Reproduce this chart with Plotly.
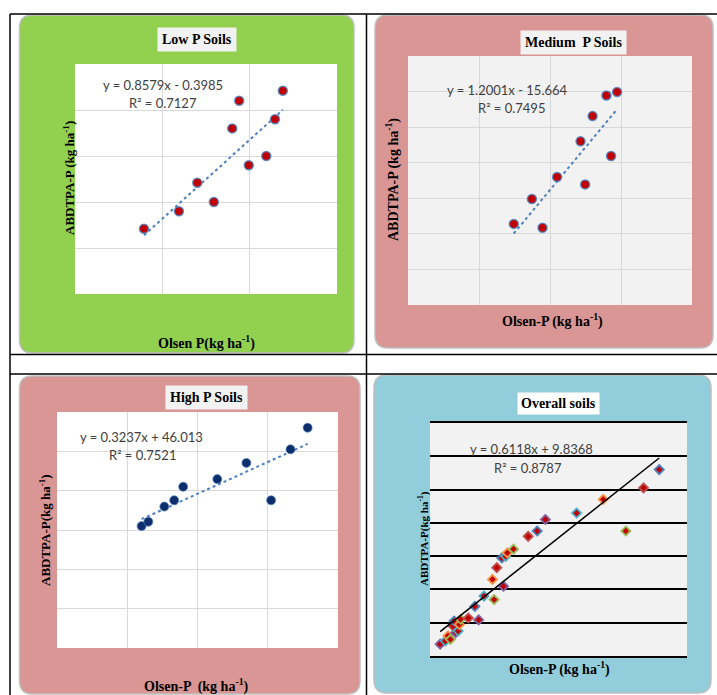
import plotly.graph_objects as go
import numpy as np

# ---------------- data ----------------
low_olsen = [7.9, 11.9, 14.0, 15.9, 18.0, 18.8, 19.9, 21.9, 22.9, 23.8]
low_abdtpa = [7.1, 9.0, 12.1, 10.0, 18.0, 21.0, 14.0, 15.0, 19.0, 22.1]
low_fit = [0.8579, -0.3985]
low_r2 = 0.7127

med_olsen = [29.8, 34.9, 37.9, 42.0, 48.6, 49.9, 52.0, 55.9, 57.2, 58.9]
med_abdtpa = [22.8, 29.8, 21.7, 36.0, 46.0, 33.9, 53.1, 58.9, 41.9, 59.9]
med_fit = [1.2001, -15.664]
med_r2 = 0.7495

high_olsen = [60.2, 65.0, 76.4, 83.4, 89.8, 114.1, 134.8, 152.4, 166.2, 178.4]
high_abdtpa = [62.0, 64.2, 71.9, 75.1, 82.0, 85.9, 94.1, 75.1, 101.0, 112.0]
high_fit = [0.3237, 46.013]
high_r2 = 0.7521

overall_olsen = low_olsen + med_olsen + high_olsen
overall_abdtpa = low_abdtpa + med_abdtpa + high_abdtpa
overall_fit = [0.6118, 9.8368]
overall_r2 = 0.8787

panel_titles = ["Low P Soils", "Medium  P Soils", "High P Soils", "Overall soils"]

# ---------------- layout helpers ----------------
W, H = 717, 695


def X(px):
    return px / W


def Y(py):
    return 1 - py / H


def rrect(x0, y0, x1, y1, r, fill, line="#BFBFBF"):
    p = (f"M {X(x0 + r)},{Y(y0)} L {X(x1 - r)},{Y(y0)} Q {X(x1)},{Y(y0)} {X(x1)},{Y(y0 + r)} "
         f"L {X(x1)},{Y(y1 - r)} Q {X(x1)},{Y(y1)} {X(x1 - r)},{Y(y1)} "
         f"L {X(x0 + r)},{Y(y1)} Q {X(x0)},{Y(y1)} {X(x0)},{Y(y1 - r)} "
         f"L {X(x0)},{Y(y0 + r)} Q {X(x0)},{Y(y0)} {X(x0 + r)},{Y(y0)} Z")
    return dict(type="path", path=p, xref="paper", yref="paper", fillcolor=fill,
                line=dict(color=line, width=1.5), layer="below")


def rect(x0, y0, x1, y1, fill):
    return dict(type="rect", xref="paper", yref="paper", x0=X(x0), x1=X(x1), y0=Y(y1), y1=Y(y0),
                fillcolor=fill, line=dict(width=0), layer="below")


def hline(x0, x1, y, w=1.5):
    return dict(type="line", xref="paper", yref="paper", x0=X(x0), x1=X(x1), y0=Y(y), y1=Y(y),
                line=dict(color="black", width=w), layer="above")


def vline(x, y0, y1, w=1.5):
    return dict(type="line", xref="paper", yref="paper", x0=X(x), x1=X(x), y0=Y(y0), y1=Y(y1),
                line=dict(color="black", width=w), layer="above")


shapes = [
    # table borders
    hline(10, 717, 14), hline(10, 717, 354.5), hline(10, 717, 374),
    vline(10, 14, 695), vline(366.5, 14, 695),
    # panel backgrounds
    rrect(19.5, 15, 354, 353, 13, "#92D050"),
    rrect(375, 15, 713, 348, 13, "#D99694"),
    rrect(19.5, 376, 360, 694, 13, "#D99694"),
    rrect(374, 375, 711, 693, 13, "#92CDDC"),
    # plot areas
    rect(75, 64, 337, 294, "white"),
    rect(408, 56, 692, 305, "#F2F2F2"),
    rect(57, 412, 338, 648, "white"),
    rect(430, 423, 687, 656, "#F2F2F2"),
]

fig = go.Figure()

serif = "Liberation Serif"
sans = "Lato"
eqcol = "#404040"
blue = "#4F81BD"

# domains in pixels: x0, x1, y0(top), y1(bottom)
doms = [(75, 337, 64, 294), (408, 692, 56, 305), (57, 338, 412, 648), (430, 687, 423, 656)]
ranges = [([0, 30], 10, [0, 25], 5), ([0, 80], 20, [0, 70], 10),
          ([0, 200], 50, [0, 120], 20), ([0, 200], 50, [0, 140], 20)]

layout_axes = {}
for i, ((x0, x1, yt, yb), (xr, dx, yr, dy)) in enumerate(zip(doms, ranges)):
    n = "" if i == 0 else str(i + 1)
    last = i == 3
    layout_axes["xaxis" + n] = dict(
        domain=[X(x0), X(x1)], range=xr, dtick=dx, anchor="y" + n,
        showgrid=not last, gridcolor="#D9D9D9", gridwidth=1, zeroline=False,
        showticklabels=False, ticks="",
        showline=last, mirror=last, linecolor="black", linewidth=1.5)
    layout_axes["yaxis" + n] = dict(
        domain=[Y(yb), Y(yt)], range=yr, dtick=dy, anchor="x" + n,
        showgrid=True, gridcolor="black" if last else "#D9D9D9",
        gridwidth=1.5 if last else 1, zeroline=False,
        showticklabels=False, ticks="", showline=False)

# scatter + trend lines
sets = [(low_olsen, low_abdtpa, low_fit), (med_olsen, med_abdtpa, med_fit),
        (high_olsen, high_abdtpa, high_fit), (overall_olsen, overall_abdtpa, overall_fit)]
halo_cycle = ["#8064A2", "#4BACC6", "#F79646", "#9BBB59", "#C0504D", "#4F81BD"]
for i, (xs, ys, (m, b)) in enumerate(sets):
    n = "" if i == 0 else str(i + 1)
    xa, ya = "x" + n, "y" + n
    xl = np.array([min(xs), max(xs)])
    if i < 3:
        fig.add_trace(go.Scatter(x=xl, y=m * xl + b, mode="lines", xaxis=xa, yaxis=ya,
                                 line=dict(color=blue, width=2, dash="dot"), showlegend=False))
    if i < 2:
        mk = dict(size=9, color="#C00000", line=dict(color="rgba(79,129,189,0.85)", width=1.5))
    elif i == 2:
        mk = dict(size=9, color="#0D2D6B", line=dict(color="rgba(79,129,189,0.7)", width=1))
    else:
        mk = dict(size=7, symbol="diamond", color="#C00000",
                  line=dict(color=[halo_cycle[k % len(halo_cycle)] for k in range(len(xs))], width=1.8))
    fig.add_trace(go.Scatter(x=xs, y=ys, mode="markers", xaxis=xa, yaxis=ya,
                             marker=mk, showlegend=False))
    if i == 3:
        fig.add_trace(go.Scatter(x=xl, y=m * xl + b, mode="lines", xaxis=xa, yaxis=ya,
                                 line=dict(color="black", width=1.5), showlegend=False))

ann = []


def text(px, py, s, size, family, color="black", bg=None, angle=0, bold=False, pad=2):
    d = dict(x=X(px), y=Y(py), xref="paper", yref="paper", text=f"<b>{s}</b>" if bold else s,
             showarrow=False, textangle=angle, xanchor="center", yanchor="middle",
             font=dict(size=size, family=family, color=color))
    if bg:
        d.update(bgcolor=bg, borderpad=pad)
    ann.append(d)


# titles
text(197, 40, panel_titles[0], 14, serif, bg="#F2F2F2", bold=True, pad=4)
text(573, 42, panel_titles[1], 14, serif, bg="#F2F2F2", bold=True, pad=4)
text(207, 397.5, panel_titles[2], 14, serif, bg="#F2F2F2", bold=True, pad=4)
text(558, 403, panel_titles[3], 14, serif, bg="white", bold=True, pad=3)

# axis titles
sup = "ha<sup>-1</sup>)"
text(69, 178, "ABDTPA-P (kg " + sup, 13, serif, angle=-90, bold=True)
text(207, 342, "Olsen P(kg " + sup, 14, serif, bold=True)
text(393, 180, "ABDTPA-P (kg " + sup, 14, serif, angle=-90, bold=True)
text(552, 320, "Olsen-P (kg " + sup, 14, serif, bold=True)
text(45, 530, "ABDTPA-P(kg " + sup, 13, serif, angle=-90, bold=True)
text(196, 685, "Olsen-P  (kg " + sup, 14, serif, bold=True)
text(423, 539, "ABDTPA-P(kg " + sup, 11, serif, angle=-90, bold=True)
text(559, 668, "Olsen-P (kg " + sup, 14, serif, bold=True)


# equations
def eq(m, b):
    sgn = "+" if b >= 0 else "-"
    return f"y = {m:.4f}x {sgn} {abs(b):g}"


text(163, 85, eq(*low_fit), 13, sans, eqcol)
text(163, 103, f"R² = {low_r2}", 13, sans, eqcol)
text(507, 90, eq(*med_fit), 13, sans, eqcol)
text(511, 108, f"R² = {med_r2}", 13, sans, eqcol)
text(141, 437, eq(*high_fit), 13, sans, eqcol)
text(142, 455, f"R² = {high_r2}", 13, sans, eqcol)
text(531, 449, eq(*overall_fit), 13, sans, eqcol)
text(528, 468, f"R² = {overall_r2}", 13, sans, eqcol)

fig.update_layout(width=W, height=H, margin=dict(l=0, r=0, t=0, b=0, pad=0),
                  paper_bgcolor="white", plot_bgcolor="rgba(0,0,0,0)",
                  shapes=shapes, annotations=ann, showlegend=False, **layout_axes)

fig.write_html("out.html", config={"displayModeBar": False},
               post_script="document.body.style.margin='0px';document.body.style.overflow='hidden';")
